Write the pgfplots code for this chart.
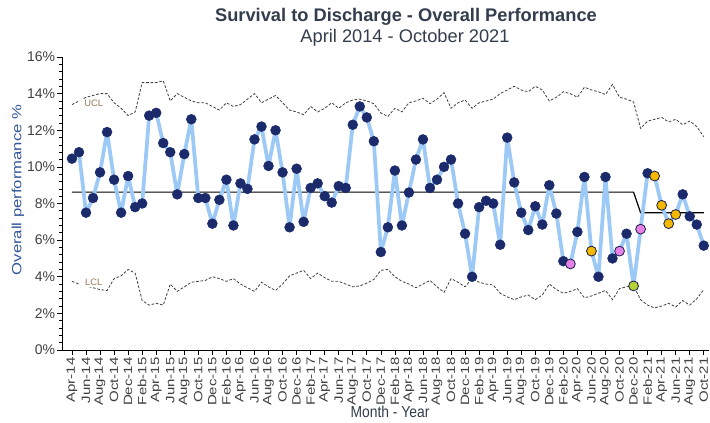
\documentclass[border=0pt]{standalone}
\usepackage{fontspec}
\setmainfont{Liberation Sans}
\usepackage{pgfplots}
\usepackage{pgfplotstable}
\pgfplotsset{compat=1.18}
\usepackage{graphicx}

\definecolor{navyc}{HTML}{1B2A6B}
\definecolor{linec}{HTML}{9CC9F5}
\definecolor{pinkc}{HTML}{E682E6}
\definecolor{orangec}{HTML}{F5B800}
\definecolor{greenc}{HTML}{B5D334}
\definecolor{titlec}{HTML}{333D4D}
\definecolor{labc}{HTML}{34579A}
\definecolor{limc}{HTML}{9A7A55}

\newcommand\xl[1]{\scalebox{1.25}[1]{#1}}

% month index (0 = Apr-14), value, marker class, UCL, LCL, centre line
\pgfplotstableread{
x  y     c  ucl    lcl   cl
0  10.45 a  13.4   3.75  8.62
1  10.8  a  13.6   3.6   8.62
2  7.5   a  13.8   3.5   8.62
3  8.3   a  13.9   3.4   8.62
4  9.7   a  14.0   3.3   8.62
5  11.9  a  14.0   3.25  8.62
6  9.3   a  13.5   3.9   8.62
7  7.5   a  13.2   4.05  8.62
8  9.5   a  12.8   4.4   8.62
9  7.8   a  13.0   4.2   8.62
10 8.0   a  14.6   2.7   8.62
11 12.8  a  14.6   2.45  8.62
12 12.95 a  14.6   2.55  8.62
13 11.3  a  14.7   2.45  8.62
14 10.8  a  13.6   3.6   8.62
15 8.5   a  14.0   3.2   8.62
16 10.7  a  13.8   3.45  8.62
17 12.6  a  13.6   3.7   8.62
18 8.3   a  13.5   3.75  8.62
19 8.3   a  13.5   3.8   8.62
20 6.9   a  13.3   4.0   8.62
21 8.2   a  13.1   3.9   8.62
22 9.3   a  13.5   3.75  8.62
23 6.8   a  13.3   3.9   8.62
24 9.1   a  13.4   3.6   8.62
25 8.8   a  13.7   3.4   8.62
26 11.5  a  14.0   3.2   8.62
27 12.2  a  13.5   3.7   8.62
28 10.05 a  13.7   3.45  8.62
29 12.0  a  13.9   3.25  8.62
30 9.7   a  13.5   3.6   8.62
31 6.7   a  13.1   4.05  8.62
32 9.9   a  13.0   4.2   8.62
33 7.0   a  12.85  4.35  8.62
34 8.85  a  13.3   3.9   8.62
35 9.1   a  13.0   4.2   8.62
36 8.4   a  13.2   3.95  8.62
37 8.05  a  13.5   3.75  8.62
38 8.95  a  13.2   3.75  8.62
39 8.85  a  13.5   3.6   8.62
40 12.3  a  13.65  3.45  8.62
41 13.3  a  13.7   3.5   8.62
42 12.7  a  13.6   3.65  8.62
43 11.4  a  13.45  3.85  8.62
44 5.35  a  12.95  4.35  8.62
45 6.7   a  12.75  4.4   8.62
46 9.8   a  13.2   4.0   8.62
47 6.8   a  13.0   3.75  8.62
48 8.6   a  13.5   3.6   8.62
49 10.4  a  13.6   3.4   8.62
50 11.5  a  13.75  3.6   8.62
51 8.85  a  13.45  3.8   8.62
52 9.3   a  13.7   3.45  8.62
53 10.0  a  14.05  3.15  8.62
54 10.4  a  13.2   3.9   8.62
55 8.0   a  13.5   3.7   8.62
56 6.35  a  13.65  3.45  8.62
57 4.0   a  13.2   3.9   8.62
58 7.8   a  13.5   3.7   8.62
59 8.15  a  13.6   3.6   8.62
60 8.0   a  13.7   3.55  8.62
61 5.75  a  14.0   3.1   8.62
62 11.6  a  14.2   2.9   8.62
63 9.15  a  14.4   2.75  8.62
64 7.5   a  14.2   2.9   8.62
65 6.55  a  14.1   3.0   8.62
66 7.85  a  14.4   2.75  8.62
67 6.85  a  14.2   3.0   8.62
68 9.0   a  13.6   3.6   8.62
69 7.45  a  13.8   3.3   8.62
70 4.85  a  14.1   3.1   8.62
71 4.7   b  14.0   3.2   8.62
72 6.45  a  13.8   3.35  8.62
73 9.45  a  14.35  2.85  8.62
74 5.4   c  14.2   2.95  8.62
75 4.0   a  14.1   3.1   8.62
76 9.45  a  13.95  3.25  8.62
77 5.0   a  14.5   2.75  8.62
78 5.4   b  13.8   3.35  8.62
79 6.35  a  13.7   3.45  8.62
80 3.5   d  13.55  3.5   8.62
81 6.6   b  12.1   2.75  7.5
82 9.65  a  12.5   2.45  7.5
83 9.5   c  12.6   2.3   7.5
84 7.9   c  12.7   2.4   7.5
85 6.9   c  12.45  2.55  7.5
86 7.4   c  12.6   2.35  7.5
87 8.5   a  12.3   2.7   7.5
88 7.3   a  12.5   2.45  7.5
89 6.85  a  12.2   2.8   7.5
90 5.7   a  11.65  3.3   7.5
}\spc

\begin{document}
\begin{tikzpicture}
\useasboundingbox (-46.5pt,-54pt) rectangle (486pt,262.5pt);
\begin{axis}[
    scale only axis,
    width=485pt, height=219.75pt,
    xmin=-1.42, xmax=90.7,
    ymin=0, ymax=16,
    axis x line*=bottom,
    axis y line*=left,
    axis line style={black, line width=0.6pt},
    xtick={0,2,...,90},
    xticklabels={\xl{Apr-14},\xl{Jun-14},\xl{Aug-14},\xl{Oct-14},\xl{Dec-14},\xl{Feb-15},\xl{Apr-15},\xl{Jun-15},\xl{Aug-15},\xl{Oct-15},\xl{Dec-15},\xl{Feb-16},\xl{Apr-16},\xl{Jun-16},\xl{Aug-16},\xl{Oct-16},\xl{Dec-16},\xl{Feb-17},\xl{Apr-17},\xl{Jun-17},\xl{Aug-17},\xl{Oct-17},\xl{Dec-17},\xl{Feb-18},\xl{Apr-18},\xl{Jun-18},\xl{Aug-18},\xl{Oct-18},\xl{Dec-18},\xl{Feb-19},\xl{Apr-19},\xl{Jun-19},\xl{Aug-19},\xl{Oct-19},\xl{Dec-19},\xl{Feb-20},\xl{Apr-20},\xl{Jun-20},\xl{Aug-20},\xl{Oct-20},\xl{Dec-20},\xl{Feb-21},\xl{Apr-21},\xl{Jun-21},\xl{Aug-21},\xl{Oct-21}},
    x tick label style={rotate=90, anchor=east, font=\fontsize{9}{10}\selectfont, text=black!75, inner sep=2pt},
    ytick={0,2,...,16},
    minor y tick num=4,
    yticklabel={\pgfmathprintnumber{\tick}\%},
    /pgf/number format/assume math mode=true,
    y tick label style={font=\fontsize{10.5}{12}\selectfont, text=black!75, inner xsep=1.5pt},
    tick align=outside,
    major tick length=3.5pt,
    minor tick length=2pt,
    tick style={black, line width=0.5pt},
    clip=false,
]
\addplot[black!75, line width=0.6pt, dash pattern=on 2pt off 1.3pt] table[x=x, y=ucl] {\spc};
\addplot[black!75, line width=0.6pt, dash pattern=on 2pt off 1.3pt] table[x=x, y=lcl] {\spc};
\node[fill=white, inner xsep=5pt, inner ysep=1pt, text=limc, font=\fontsize{7}{8}\selectfont] at (axis cs:3.1,13.45) {UCL};
\node[fill=white, inner xsep=5pt, inner ysep=1pt, text=limc, font=\fontsize{7}{8}\selectfont] at (axis cs:3.1,3.7) {LCL};
\addplot[black, line width=0.9pt] table[x=x, y=cl] {\spc};
\addplot[linec, line width=2.8pt, line join=round] table[x=x, y=y] {\spc};
\addplot[scatter, only marks, mark=*, mark size=3.7pt,
    scatter src=explicit symbolic,
    scatter/classes={
        a={mark=*, draw=navyc, fill=navyc},
        b={mark=*, draw=navyc!70!black, fill=pinkc, line width=0.6pt},
        c={mark=*, draw=navyc!70!black, fill=orangec, line width=0.6pt},
        d={mark=*, draw=navyc!70!black, fill=greenc, line width=0.6pt}}]
    table[x=x, y=y, meta=c] {\spc};
\end{axis}
\node[text=titlec, font=\bfseries\fontsize{13.7}{15}\selectfont] at (258pt,249.75pt) {Survival to Discharge - Overall Performance};
\node[text=titlec, font=\fontsize{13.7}{15}\selectfont] at (257.25pt,234pt) {April 2014 - October 2021};
\node[text=labc, rotate=90, font=\fontsize{10}{12}\selectfont] at (-33pt,120pt) {\scalebox{1.25}[1]{Overall performance \%}};
\node[text=titlec, font=\fontsize{10.4}{12}\selectfont] at (246pt,-46.5pt) {\scalebox{1}[1.15]{Month - Year}};
\end{tikzpicture}
\end{document}
